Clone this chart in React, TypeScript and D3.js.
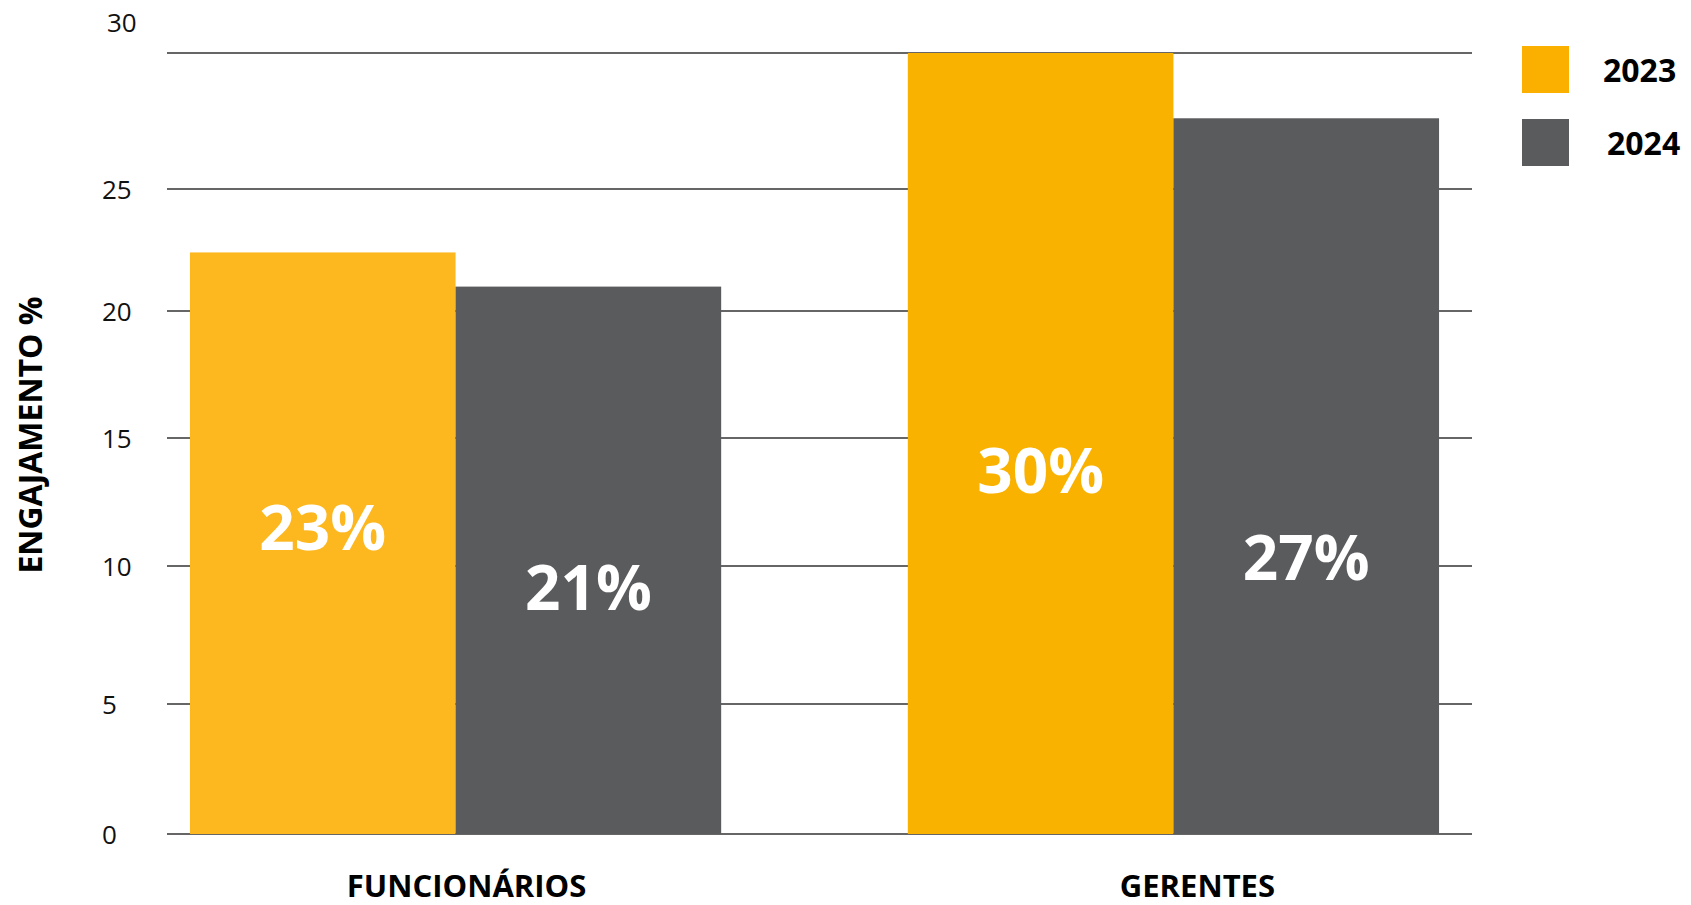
import React from "react";
import * as d3 from "d3";

const categories = ["FUNCIONÁRIOS", "GERENTES"];
const seriesNames = ["2023", "2024"];
const values2023 = [22.4, 30];
const values2024 = [21, 27.6];
const labels2023 = ["23%", "30%"];
const labels2024 = ["21%", "27%"];
// where (in data units) each value label is centred inside its bar
const labelAt2023 = [11.5, 13.7];
const labelAt2024 = [9.2, 10.3];
const yTicks = [0, 5, 10, 15, 20, 25, 30];

const W = 1691;
const H = 905;
const FONT = "'Open Sans', 'DejaVu Sans', sans-serif";

// vertical pixel positions of the (unevenly drawn) gridlines in the original graphic
const yRange = [834, 704, 566, 438, 311, 189, 53];

const barColors: Record<string, string[]> = {
  "2023": ["#FDB71F", "#FAB200"],
  "2024": ["#5A5B5D", "#5A5B5D"],
};
const legendColors: Record<string, string> = { "2023": "#FBB000", "2024": "#5A5B5D" };

export default function App() {
  const plotLeft = 167;
  const plotRight = 1472;
  const y = d3.scaleLinear().domain(yTicks).range(yRange);
  const x0 = d3
    .scaleBand<string>()
    .domain(categories)
    .range([172, 1457])
    .paddingInner(0.26)
    .paddingOuter(0.025);
  const x1 = d3.scaleBand<string>().domain(seriesNames).range([0, x0.bandwidth()]).padding(0);

  const seriesData: Record<string, { v: number[]; l: string[]; at: number[] }> = {
    "2023": { v: values2023, l: labels2023, at: labelAt2023 },
    "2024": { v: values2024, l: labels2024, at: labelAt2024 },
  };

  return (
    <svg
      width={W}
      height={H}
      style={{ position: "absolute", left: 0, top: 0, background: "#fff" }}
      fontFamily={FONT}
    >
      {/* gridlines */}
      {yTicks.map((t) => (
        <line
          key={"g" + t}
          x1={plotLeft}
          x2={plotRight}
          y1={y(t)}
          y2={y(t)}
          stroke="#666666"
          strokeWidth={2.2}
        />
      ))}
      {/* tick labels */}
      {yTicks.map((t) => (
        <text
          key={"t" + t}
          x={t === 30 ? 107 : 102}
          y={(t === 30 ? y(t) - 31 : y(t)) + 9.5}
          fontSize={26}
          fill="#111"
        >
          {t}
        </text>
      ))}
      {/* bars */}
      {categories.map((c, ci) =>
        seriesNames.map((s) => {
          const d = seriesData[s];
          const bx = (x0(c) ?? 0) + (x1(s) ?? 0);
          const bw = x1.bandwidth();
          return (
            <g key={c + s}>
              <rect
                x={bx}
                y={y(d.v[ci])}
                width={bw}
                height={y(0) - y(d.v[ci])}
                fill={barColors[s][ci]}
              />
              <text
                x={bx + bw / 2}
                y={y(d.at[ci]) + 22}
                textAnchor="middle"
                fontSize={62}
                fontWeight={700}
                fill="#fff"
              >
                {d.l[ci]}
              </text>
            </g>
          );
        })
      )}
      {/* category labels */}
      {categories.map((c) => (
        <text
          key={"c" + c}
          x={(x0(c) ?? 0) + x0.bandwidth() / 2 + (c === "GERENTES" ? 24 : 11)}
          y={897}
          textAnchor="middle"
          fontSize={31}
          fontWeight={700}
          fill="#000"
        >
          {c}
        </text>
      ))}
      {/* y axis title */}
      <text
        transform="translate(42,435) rotate(-90)"
        textAnchor="middle"
        fontSize={32}
        fontWeight={700}
        fill="#000"
      >
        ENGAJAMENTO %
      </text>
      {/* legend */}
      {seriesNames.map((s, i) => (
        <g key={"l" + s} transform={`translate(1522, ${46 + i * 73})`}>
          <rect width={47} height={47} fill={legendColors[s]} />
          <text x={81 + i * 4} y={36} fontSize={32} fontWeight={700} fill="#000">
            {s}
          </text>
        </g>
      ))}
    </svg>
  );
}
